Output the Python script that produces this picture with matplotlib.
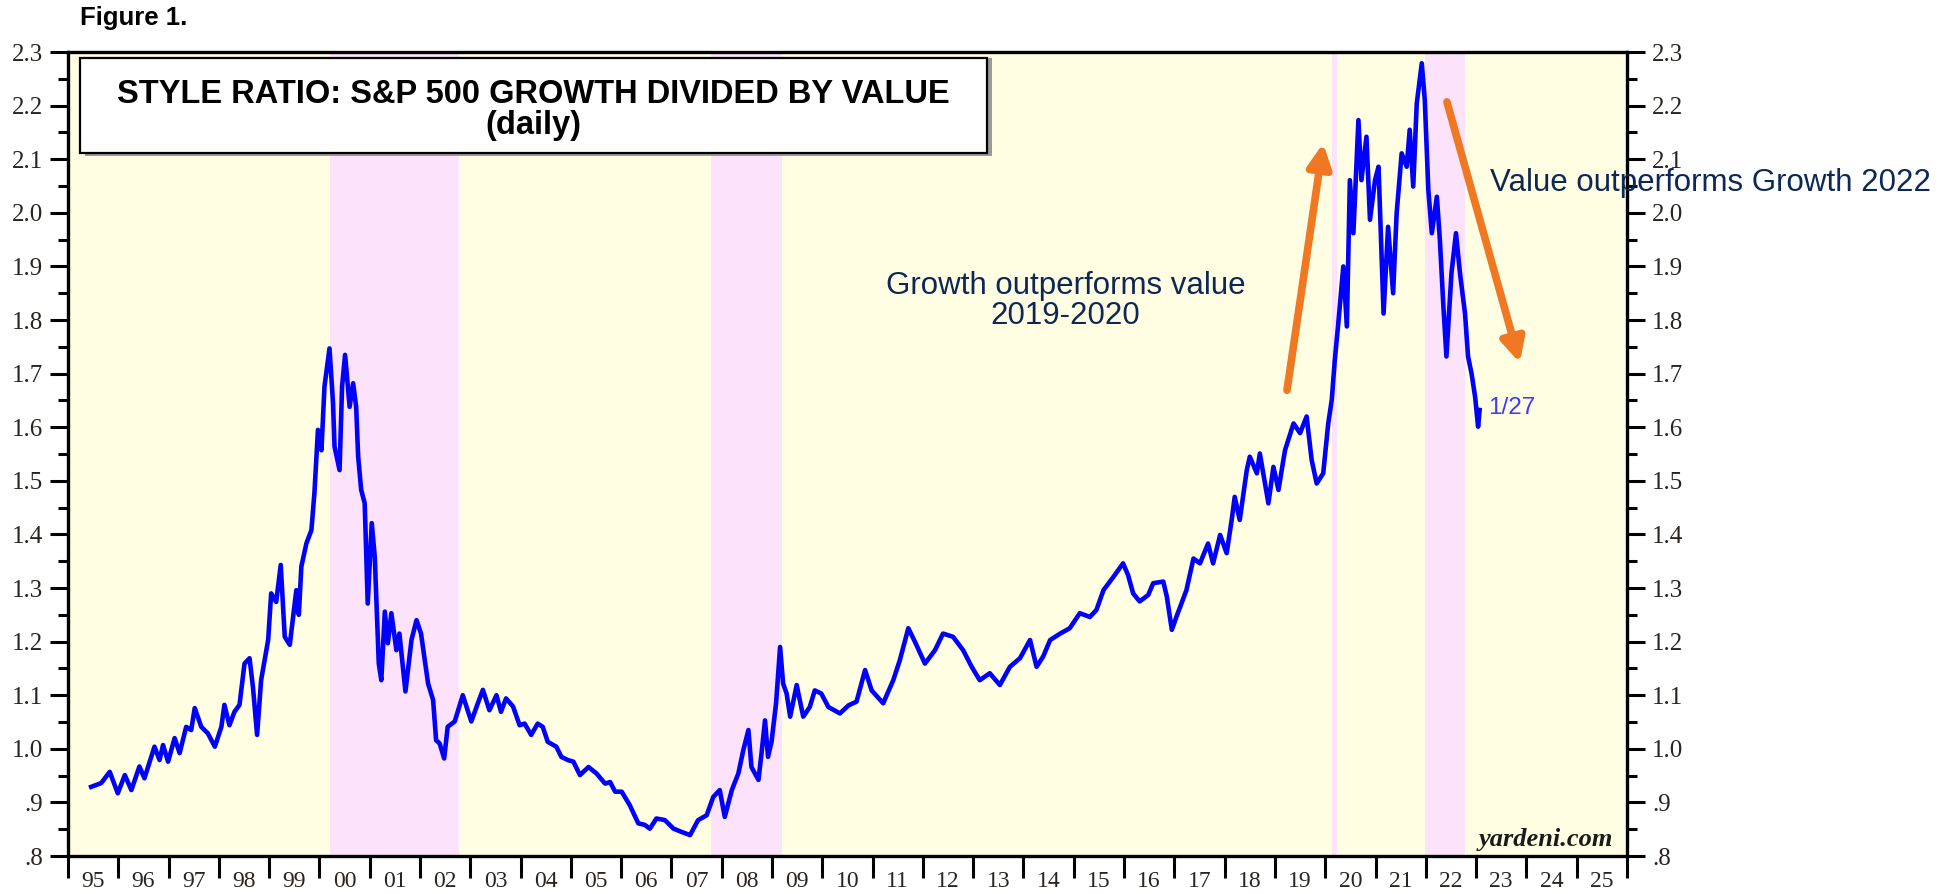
import matplotlib
matplotlib.use("Agg")
import matplotlib.pyplot as plt
from matplotlib.patches import Rectangle
from matplotlib.ticker import FixedLocator

# style ratio (decimal year, ratio)
years = [1995.46, 1995.66, 1995.83, 1995.99, 1996.13, 1996.26, 1996.42, 1996.52, 1996.72, 1996.82,
         1996.89, 1996.99, 1997.12, 1997.22, 1997.35, 1997.45, 1997.52, 1997.65, 1997.78, 1997.92,
         1998.05, 1998.11, 1998.21, 1998.31, 1998.41, 1998.51, 1998.61, 1998.68, 1998.76, 1998.84,
         1998.98, 1999.04, 1999.14, 1999.23, 1999.31, 1999.41, 1999.54, 1999.59, 1999.64, 1999.74,
         1999.84, 1999.90, 1999.97, 2000.04, 2000.10, 2000.20, 2000.27, 2000.30, 2000.40, 2000.45,
         2000.51, 2000.60, 2000.67, 2000.73, 2000.77, 2000.83, 2000.90, 2000.96, 2001.04, 2001.10,
         2001.18, 2001.23, 2001.30, 2001.36, 2001.43, 2001.53, 2001.59, 2001.71, 2001.83, 2001.93,
         2002.02, 2002.16, 2002.26, 2002.32, 2002.39, 2002.48, 2002.55, 2002.69, 2002.85, 2003.02,
         2003.15, 2003.25, 2003.38, 2003.52, 2003.61, 2003.71, 2003.85, 2003.98, 2004.08, 2004.21,
         2004.34, 2004.44, 2004.54, 2004.71, 2004.81, 2004.94,
         2005.05, 2005.18, 2005.35, 2005.51, 2005.68, 2005.78, 2005.88, 2006.01, 2006.17, 2006.34,
         2006.47, 2006.57, 2006.70, 2006.87, 2007.04, 2007.20, 2007.37, 2007.53, 2007.70, 2007.83,
         2007.96, 2008.06, 2008.20, 2008.33, 2008.43, 2008.53, 2008.59, 2008.73, 2008.79, 2008.86,
         2008.92, 2008.99, 2009.08, 2009.16, 2009.22, 2009.29, 2009.36, 2009.49, 2009.62, 2009.75,
         2009.85, 2009.98, 2010.12, 2010.35, 2010.52, 2010.68, 2010.85, 2010.98, 2011.21, 2011.41,
         2011.54, 2011.71, 2011.84, 2012.04, 2012.24, 2012.40, 2012.60, 2012.80, 2012.97, 2013.13,
         2013.33, 2013.53, 2013.73, 2013.93, 2014.13, 2014.26, 2014.39,
         2014.53, 2014.73, 2014.92, 2015.12, 2015.32, 2015.45, 2015.59, 2015.79, 2015.98, 2016.08,
         2016.18, 2016.31, 2016.48, 2016.58, 2016.78, 2016.85, 2016.95, 2017.04, 2017.24, 2017.38,
         2017.51, 2017.67, 2017.77, 2017.91, 2018.04, 2018.14, 2018.20, 2018.30, 2018.44,
         2018.50, 2018.64, 2018.70, 2018.87, 2018.97, 2019.07, 2019.20, 2019.37, 2019.50, 2019.63,
         2019.73, 2019.83, 2019.96, 2020.06, 2020.13, 2020.19, 2020.26, 2020.36, 2020.43, 2020.49,
         2020.56, 2020.66, 2020.72, 2020.82, 2020.89, 2020.99, 2021.06, 2021.16, 2021.25, 2021.35,
         2021.42, 2021.52, 2021.62, 2021.68, 2021.75, 2021.82, 2021.92, 2021.98, 2022.05, 2022.12,
         2022.22, 2022.28, 2022.35, 2022.41, 2022.51, 2022.60, 2022.68, 2022.78, 2022.84, 2022.91,
         2022.98, 2023.04, 2023.07]
ratio = [0.929, 0.936, 0.957, 0.917, 0.951, 0.923, 0.967, 0.945, 1.004, 0.979,
         1.007, 0.976, 1.020, 0.992, 1.041, 1.035, 1.076, 1.041, 1.029, 1.004,
         1.041, 1.082, 1.044, 1.069, 1.082, 1.159, 1.169, 1.113, 1.026, 1.128,
         1.203, 1.290, 1.274, 1.343, 1.209, 1.194, 1.296, 1.250, 1.340, 1.383,
         1.408, 1.477, 1.595, 1.557, 1.676, 1.747, 1.645, 1.564, 1.520, 1.676,
         1.735, 1.638, 1.682, 1.638, 1.545, 1.483, 1.458, 1.271, 1.421, 1.358,
         1.159, 1.128, 1.256, 1.197, 1.253, 1.184, 1.215, 1.107, 1.203, 1.240,
         1.215, 1.122, 1.091, 1.016, 1.010, 0.982, 1.041, 1.051, 1.100, 1.051,
         1.085, 1.110, 1.072, 1.100, 1.069, 1.094, 1.079, 1.044, 1.047, 1.026,
         1.047, 1.041, 1.013, 1.004, 0.985, 0.979,
         0.976, 0.951, 0.966, 0.954, 0.935, 0.938, 0.920, 0.920, 0.895, 0.861,
         0.858, 0.851, 0.870, 0.867, 0.851, 0.845, 0.839, 0.867, 0.876, 0.910,
         0.923, 0.873, 0.923, 0.954, 0.998, 1.035, 0.966, 0.942, 0.991, 1.053,
         0.985, 1.013, 1.085, 1.190, 1.122, 1.103, 1.060, 1.119, 1.060, 1.078,
         1.109, 1.103, 1.078, 1.066, 1.081, 1.088, 1.147, 1.109, 1.085, 1.128,
         1.165, 1.225, 1.200, 1.159, 1.184, 1.215, 1.209, 1.184, 1.153, 1.128,
         1.141, 1.119, 1.153, 1.169, 1.203, 1.153, 1.172,
         1.203, 1.215, 1.225, 1.253, 1.246, 1.259, 1.296, 1.321, 1.346, 1.324,
         1.290, 1.275, 1.287, 1.309, 1.312, 1.284, 1.222, 1.246, 1.296, 1.355,
         1.346, 1.383, 1.346, 1.399, 1.365, 1.427, 1.470, 1.427, 1.520,
         1.545, 1.514, 1.551, 1.458, 1.526, 1.483, 1.557, 1.607, 1.589, 1.620,
         1.539, 1.495, 1.514, 1.607, 1.651, 1.725, 1.794, 1.900, 1.788, 2.061,
         1.962, 2.173, 2.061, 2.142, 1.987, 2.061, 2.086, 1.812, 1.974, 1.850,
         1.999, 2.111, 2.086, 2.155, 2.049, 2.204, 2.279, 2.210, 2.043, 1.962,
         2.030, 1.949, 1.825, 1.732, 1.887, 1.962, 1.887, 1.812, 1.732, 1.700,
         1.657, 1.601, 1.632]

# bear-market shading
shade_start = [2000.20, 2007.78, 2020.13, 2021.99]
shade_end = [2002.78, 2009.19, 2020.23, 2022.78]

year_labels = ["%02d" % (y % 100) for y in range(1995, 2026)]
y_major = [0.8 + 0.1 * i for i in range(16)]
y_minor = [0.85 + 0.1 * i for i in range(15)]

serif = "Liberation Serif"
sans = "Liberation Sans"
tick_col = "#2a2420"
navy = "#0d2856"
orange = "#f07822"

fig = plt.figure(figsize=(19.39, 8.94), dpi=100)
ax = fig.add_axes([0.03507, 0.0425, 0.8040, 0.8993])
ax.set_facecolor("#fffee3")
ax.set_xlim(1995, 2026)
ax.set_ylim(0.8, 2.3)

for s, e in zip(shade_start, shade_end):
    ax.axvspan(s, e, color="#fce3fb", lw=0, zorder=0)

ax.plot(years, ratio, color="#0000ff", lw=3.3, zorder=3)

# ticks
ax.xaxis.set_major_locator(FixedLocator(range(1995, 2027)))
ax.xaxis.set_minor_locator(FixedLocator([y + 0.5 for y in range(1995, 2026)]))
ax.set_xticklabels([], minor=False)
ax.set_xticklabels(year_labels, minor=True)
ax.tick_params(axis="x", which="major", direction="out", length=16, width=2.2, color="black")
ax.tick_params(axis="x", which="minor", length=0, pad=11, labelsize=17, labelcolor=tick_col)

ax.yaxis.set_major_locator(FixedLocator(y_major))
ax.yaxis.set_minor_locator(FixedLocator(y_minor))
ylabels = []
for v in y_major:
    s = "%.1f" % v
    if s.startswith("0"):
        s = s[1:]
    ylabels.append(s)
ax.set_yticklabels(ylabels)
ax.tick_params(axis="y", which="both", left=True, right=True, labelleft=True, labelright=True,
               direction="out", width=2.2, color="black")
ax.tick_params(axis="y", which="major", length=13, pad=5, labelsize=18, labelcolor=tick_col)
ax.tick_params(axis="y", which="minor", length=7)

for lab in ax.get_xticklabels(minor=True) + ax.get_yticklabels():
    lab.set_family(serif)

for sp in ax.spines.values():
    sp.set_linewidth(2.4)
    sp.set_color("black")

# title box
shadow = Rectangle((0.0107, 0.8704), 0.5818, 0.1221, transform=ax.transAxes,
                   facecolor="#9a9a9a", edgecolor="none", zorder=4)
box = Rectangle((0.0077, 0.8744), 0.5818, 0.1181, transform=ax.transAxes,
                facecolor="white", edgecolor="black", lw=1.6, zorder=5)
ax.add_patch(shadow)
ax.add_patch(box)
ax.text(0.2986, 0.947, "STYLE RATIO: S&P 500 GROWTH DIVIDED BY VALUE", transform=ax.transAxes,
        ha="center", va="center", fontsize=23.5, fontweight="bold", family=sans, zorder=6)
ax.text(0.2986, 0.908, "(daily)", transform=ax.transAxes,
        ha="center", va="center", fontsize=23.5, fontweight="bold", family=sans, zorder=6)

fig.text(0.0413, 0.980, "Figure 1.", ha="left", va="center", fontsize=18.5,
         fontweight="bold", family=sans)

ax.text(0.991, 0.02, "yardeni.com", transform=ax.transAxes, ha="right", va="center",
        fontsize=19, fontweight="bold", style="italic", family=serif, color="#1a1a1a")

ax.text(years[-1] + 0.17, 1.636, "1/27", ha="left", va="center", fontsize=17.5,
        family=sans, color="#3c3cff")

# annotations
ax.text(2014.84, 1.835, "Growth outperforms value\n2019-2020", ha="center", va="center",
        fontsize=22.5, family=sans, color=navy, linespacing=1.0)
ax.text(2023.27, 2.056, "Value outperforms Growth 2022", ha="left", va="center",
        fontsize=22.5, family=sans, color=navy, clip_on=False, zorder=7)

arrow = dict(arrowstyle="-|>,head_length=1.4,head_width=0.7", color=orange, lw=5.5,
             shrinkA=0, shrinkB=0)
ax.annotate("", xy=(2019.96, 2.130), xytext=(2019.24, 1.669), arrowprops=arrow, zorder=6)
ax.annotate("", xy=(2023.87, 1.720), xytext=(2022.42, 2.207), arrowprops=arrow, zorder=6)

fig.savefig("out.png", dpi=100)
